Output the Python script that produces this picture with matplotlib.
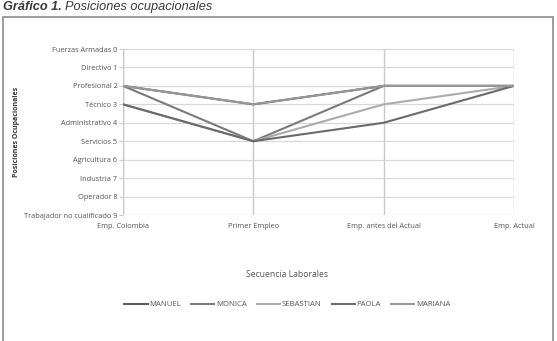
import matplotlib.pyplot as plt
from matplotlib.patches import Rectangle
from matplotlib.transforms import offset_copy

# categories and values
etapas = ["Emp. Colombia", "Primer Empleo", "Emp. antes del Actual", "Emp. Actual"]
posiciones = ["Fuerzas Armadas 0", "Directivo 1", "Profesional 2", "Técnico 3",
              "Administrativo 4", "Servicios 5", "Agricultura 6", "Industria 7",
              "Operador 8", "Trabajador no cualificado 9"]

nombres = ["MANUEL", "MONICA", "SEBASTIAN", "PAOLA", "MARIANA"]
manuel = [2, 3, 2, 2]
monica = [2, 5, 2, 2]
sebastian = [3, 5, 3, 2]
paola = [3, 5, 4, 2]
mariana = [2, 3, 2, 2]
series = [manuel, monica, sebastian, paola, mariana]
colores = ["#5e5e5e", "#7a7a7a", "#ababab", "#6a6a6a", "#979797"]

plt.rcParams['font.family'] = ['Open Sans', 'DejaVu Sans']

fig = plt.figure(figsize=(5.57, 3.41), dpi=100)

# outer frame of the figure box
fig.patches.append(Rectangle((3 / 557, -0.05), 550 / 557, 1 - 17 / 341 + 0.05,
                             transform=fig.transFigure, fill=False,
                             edgecolor="#8c8c8c", linewidth=1.2))

t1 = fig.text(3 / 557, 1 - 7 / 341, "Gráfico 1.", fontsize=9.2, fontweight="bold",
              fontstyle="italic", color="#3a3a3a", va="center", ha="left",
              family="Liberation Sans")
fig.canvas.draw()
w = t1.get_window_extent().width
tr = offset_copy(fig.transFigure, fig=fig, x=(w + 3) * 72 / fig.dpi, y=0, units="points")
fig.text(3 / 557, 1 - 7 / 341, "Posiciones ocupacionales", fontsize=9.2,
         fontstyle="italic", color="#3a3a3a", va="center", ha="left",
         family="Liberation Sans", transform=tr)

ax = fig.add_axes([123 / 557, 1 - 215 / 341, 391 / 557, 166 / 341])

x = list(range(len(etapas)))
for nombre, vals, c in zip(nombres, series, colores):
    ax.plot(x, vals, color=c, linewidth=1.5, label=nombre, zorder=3)

ax.set_xlim(0, 3)
ax.set_ylim(9, 0)
ax.set_yticks(range(10))
ax.set_yticklabels(posiciones)
ax.set_xticks(x)
ax.set_xticklabels(etapas)

for s in ax.spines.values():
    s.set_visible(False)
ax.grid(axis="y", color="#d8d8d8", linewidth=0.9, zorder=0)
ax.grid(axis="x", color="#c8c8c8", linewidth=1.0, zorder=0)
ax.tick_params(axis="y", length=3, color="#c8c8c8", labelsize=5.3,
               labelcolor="#555555", pad=1)
ax.tick_params(axis="x", length=0, labelsize=5.3, labelcolor="#555555", pad=6)
ax.axvline(0, color="#c8c8c8", linewidth=1.0, zorder=0)

ax.set_ylabel("Posiciones Ocupacionales", fontsize=5, color="#333333",
              fontweight="bold")
ax.yaxis.set_label_coords(-103 / 391, 0.5)
ax.set_xlabel("Secuencia Laborales", fontsize=6.2, color="#555555")
ax.xaxis.set_label_coords(0.42, -0.33)

ax.legend(loc="center", bbox_to_anchor=(0.42, -0.54), ncol=5, frameon=False,
          fontsize=5.6, handlelength=3.0, handletextpad=0.2, columnspacing=1.3,
          labelcolor="#555555")

fig.savefig("out.png", dpi=100)
